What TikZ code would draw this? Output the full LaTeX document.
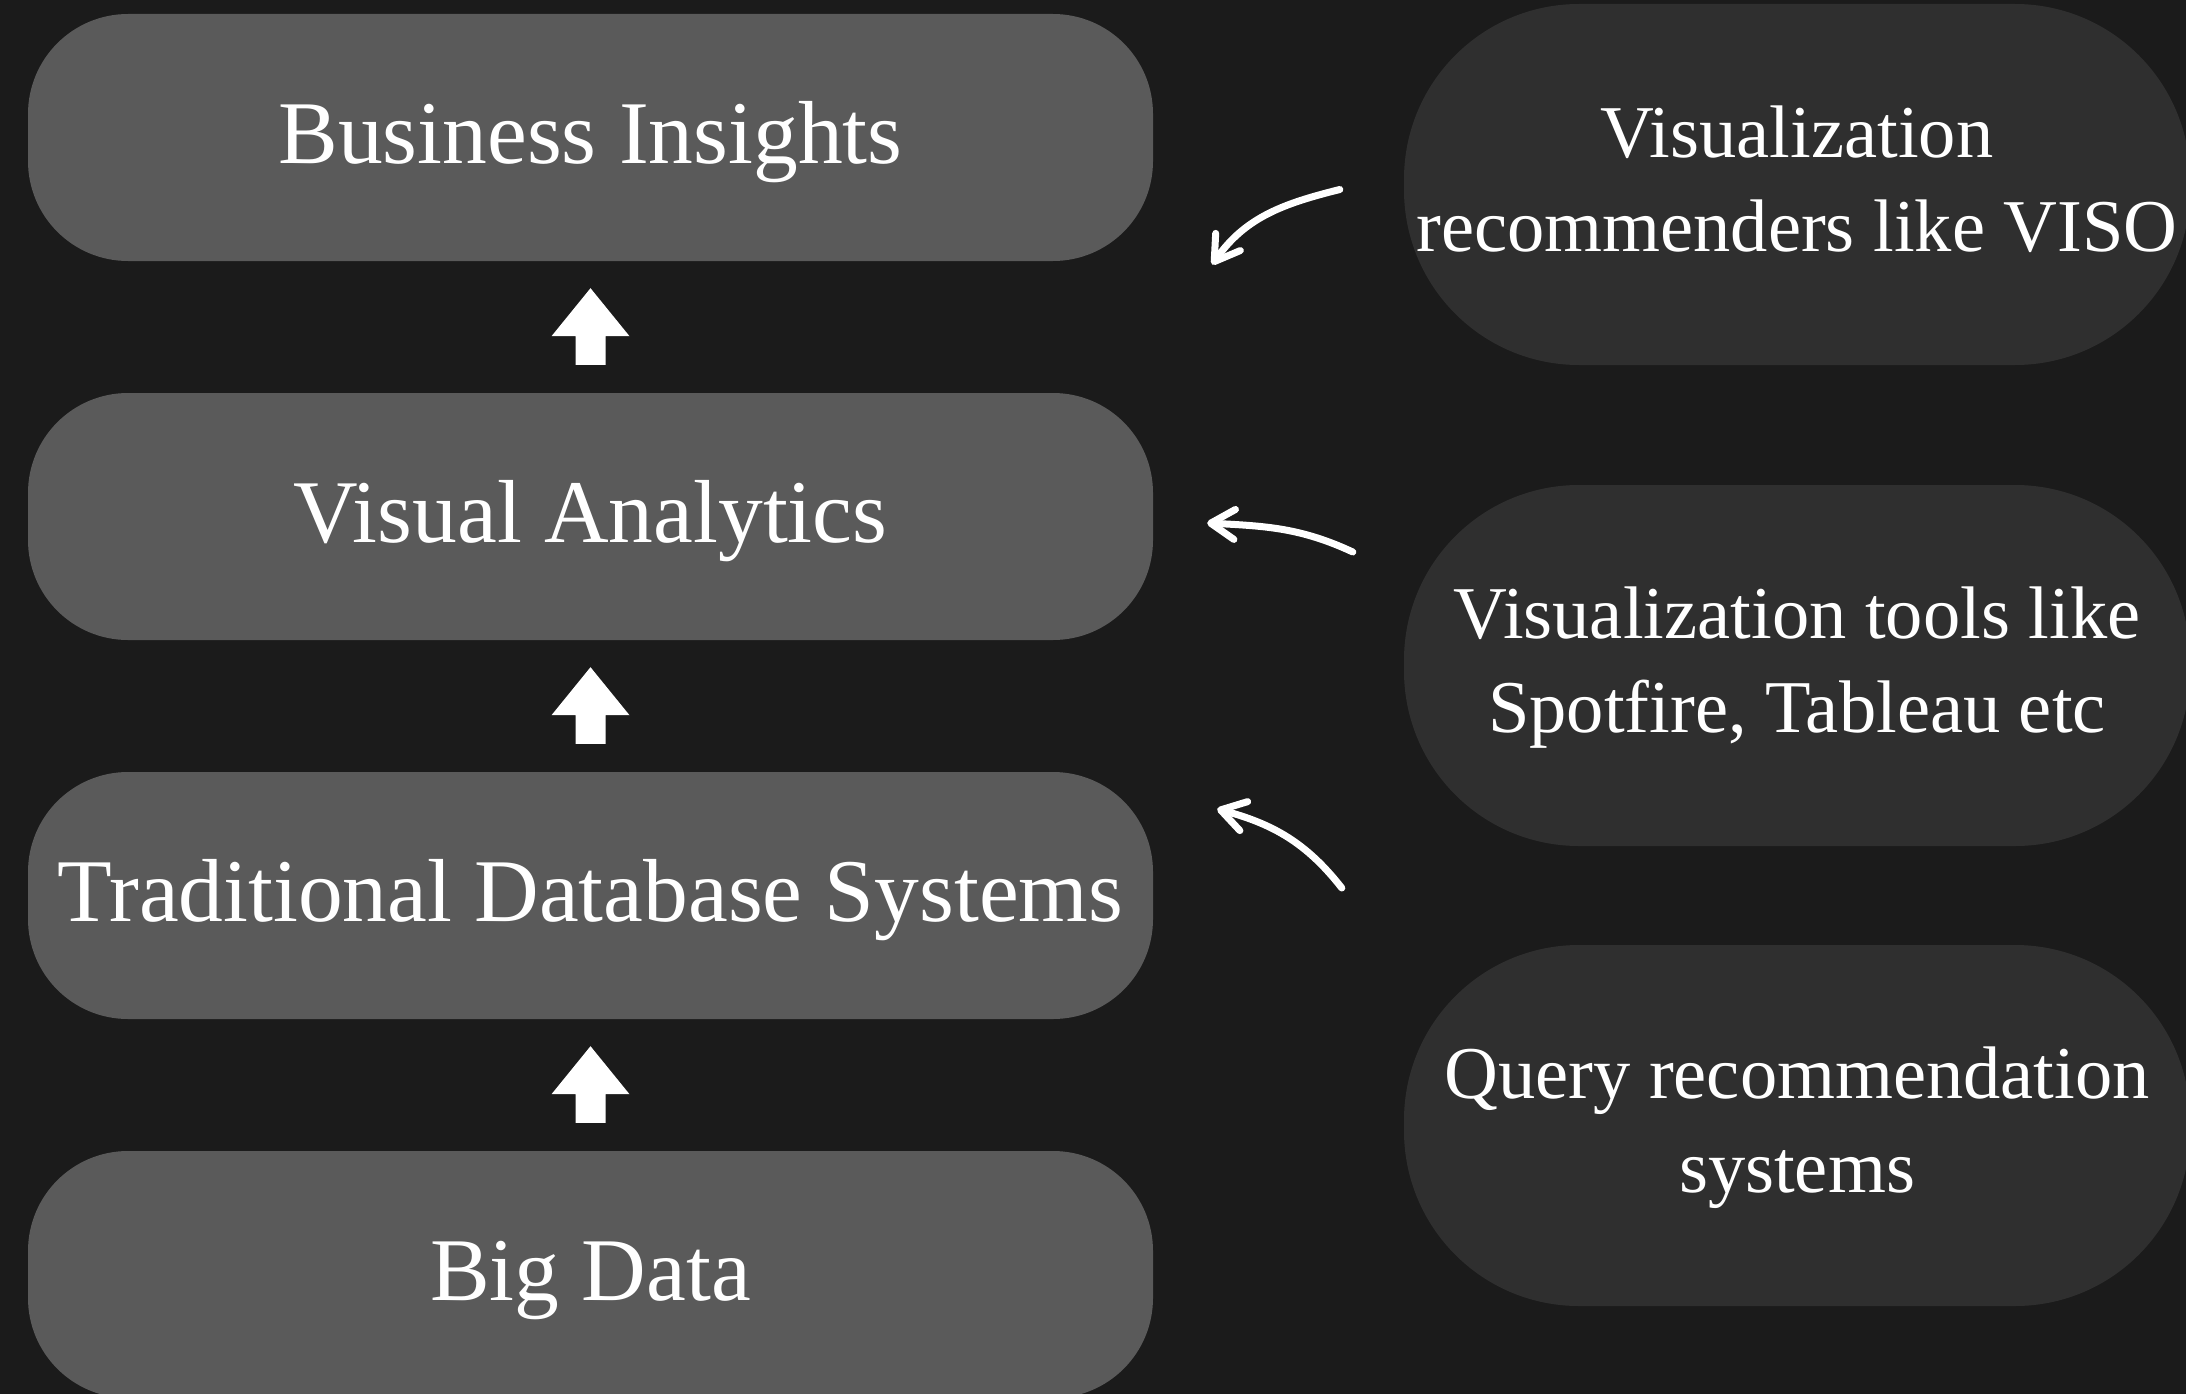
\documentclass[tikz,border=0pt]{standalone}
\usepackage{fontspec}
\setmainfont{Liberation Serif}
\usetikzlibrary{calc,arrows.meta}

\definecolor{canvas}{HTML}{1B1B1B}
\definecolor{stagefill}{HTML}{5A5A5A}
\definecolor{toolfill}{HTML}{2F2F2F}

% uniform line metrics for the two-line labels
\newcommand\tline{\rule[-16pt]{0pt}{72pt}}

\tikzset{
  stage/.style={fill=stagefill, rounded corners=100pt, minimum width=1125pt,
    minimum height=247pt, inner sep=0pt, text=white,
    text height=78pt, text depth=27pt,
    font=\fontsize{89.5}{100}\selectfont},
  tool/.style={fill=toolfill, rounded corners=175pt, minimum width=786pt,
    minimum height=361pt, inner sep=0pt, text=white, align=center,
    font=\fontsize{74.5}{94}\selectfont},
  blockarrow/.style={fill=white},
  curvearrow/.style={draw=white, line width=7pt, line cap=round,
    -{Straight Barb[length=24pt,width=30pt,round]}},
}

% flow arrow pointing up from the lower stage to the upper one
\newcommand\stageup[2]{%
  \fill[blockarrow] ($(#1.south)+(0,27)$) -- ($(#1.south)+(39,75)$)
    -- ($(#1.south)+(15,75)$) -- ($(#2.north)+(15,-28)$)
    -- ($(#2.north)+(-15,-28)$) -- ($(#1.south)+(-15,75)$)
    -- ($(#1.south)+(-39,75)$) -- cycle;}

\begin{document}
\begin{tikzpicture}[x=1pt, y=-1pt]
  \fill[canvas] (0,0) rectangle (2186,1394);
  \useasboundingbox (0,0) rectangle (2186,1394);

  % layered stages
  \node[stage] (insights) at (590.5,137.5) {Business Insights};
  \node[stage] (visual)   at (590.5,516.5) {Visual Analytics};
  \node[stage] (dbms)     at (590.5,895.5) {Traditional Database Systems};
  \node[stage] (bigdata)  at (590.5,1274.5) {Big Data};

  % supporting systems
  \node[tool] (viso)  at (1797,184.5)
    {\tline Visualization\\\tline recommenders like VISO};
  \node[tool] (tools) at (1797,665.5)
    {\tline Visualization tools like\\\tline Spotfire, Tableau etc};
  \node[tool] (query) at (1797,1125.5)
    {\tline Query recommendation\\\tline systems};

  % upward flow between stages
  \stageup{insights}{visual}
  \stageup{visual}{dbms}
  \stageup{dbms}{bigdata}

  % hand-drawn pointers from the supporting systems
  \coordinate (vs) at ($(viso.west)+(-64,5)$);
  \coordinate (ve) at ($(insights.east)+(59,127)$);
  \coordinate (ts) at ($(tools.west)+(-51,-113.5)$);
  \coordinate (te) at ($(visual.east)+(54,6.5)$);
  \coordinate (qs) at ($(query.west)+(-62,-237.5)$);
  \coordinate (qe) at ($(dbms.east)+(64,-86.5)$);

  \draw[curvearrow] (vs) to[out=194, in=55] (ve);
  \draw[curvearrow] (ts) to[out=155, in=-3] (te);
  \draw[curvearrow] (qs) to[out=128, in=-15] (qe);
\end{tikzpicture}
\end{document}
